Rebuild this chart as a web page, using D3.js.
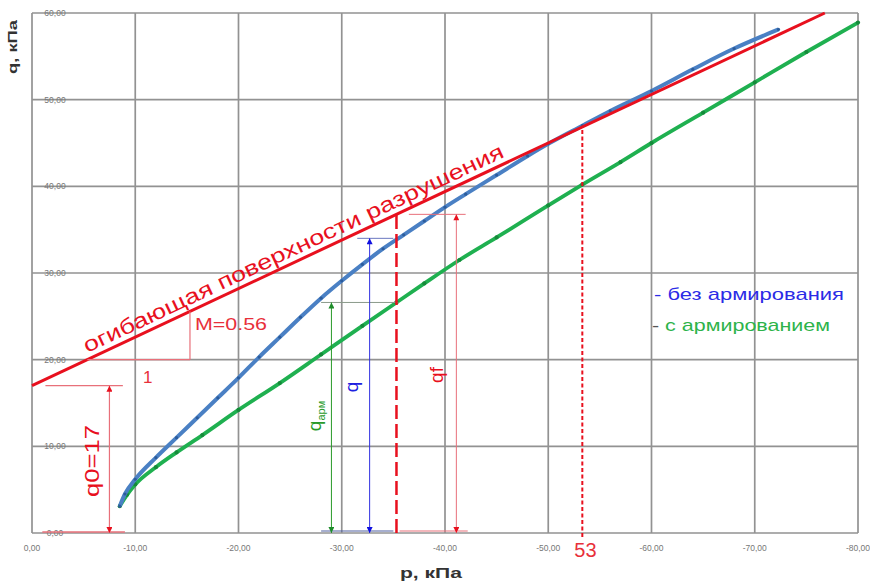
<!DOCTYPE html>
<html><head><meta charset="utf-8">
<script src="https://cdn.jsdelivr.net/npm/d3@7"></script>
<style>body{margin:0;background:#fff}svg{display:block}</style>
</head><body>
<script>
// ---- data ----
const xTicks = [0,10,20,30,40,50,60,70,80];
const xTickLabels = ["0,00","-10,00","-20,00","-30,00","-40,00","-50,00","-60,00","-70,00","-80,00"];
const yTicks = [0,10,20,30,40,50,60];
const yTickLabels = ["0,00","10,00","20,00","30,00","40,00","50,00","60,00"];
const bezP = [8.5,9,10,12,14,16,18,20,22,24,26,28,30,32,34,36,38,40,42,45,48,50,53.3,56,60,64,68,72.3];
const bezQ = [3.1,4.5,6.2,8.7,11.0,13.3,15.6,17.9,20.3,22.6,24.9,27.1,29.1,31.0,32.8,34.4,36.0,37.6,39.1,41.3,43.5,44.9,47.0,48.7,51.0,53.5,55.9,58.1];
const armP = [8.5,9.2,10,12,14,16.5,20,24,28,32,35.3,38,41.4,45,50,53.3,57,60,65,70,75,80];
const armQ = [3.1,4.4,5.6,7.6,9.3,11.3,14.2,17.3,20.6,23.9,26.6,28.8,31.5,34.1,37.8,40.2,42.8,45.0,48.5,52.0,55.5,58.9];
const q0 = 17, M = 0.56;
const pf = 35.3, pEnv = 53.3;
const arrowP = {q0: 7.5, arm: 29.0, bez: 32.7, qf: 41.1};
const qArm = 26.6, qBez = 34.0;

const W = 870, H = 585;
const FONT = "Liberation Sans, Arial, sans-serif";
const svg = d3.select("body").append("svg").attr("width", W).attr("height", H);
const x = d3.scaleLinear().domain([0,80]).range([32,858]);
const y = d3.scaleLinear().domain([0,60]).range([533,13]);

// markers
const defs = svg.append("defs");
function marker(id, color){
  defs.append("marker").attr("id", id).attr("viewBox","0 0 10 10").attr("refX",10).attr("refY",5)
    .attr("markerWidth",14).attr("markerHeight",6).attr("markerUnits","userSpaceOnUse").attr("orient","auto-start-reverse")
    .append("path").attr("d","M0,0L10,5L0,10Z").attr("fill", color);
}
marker("aR","#e8101e"); marker("aB","#1010e0"); marker("aG","#1e8c2a");

// grid
const g = svg.append("g");
g.selectAll(".vx").data(xTicks).join("line").attr("x1",d=>x(d)).attr("x2",d=>x(d)).attr("y1",y(0)).attr("y2",y(60))
  .attr("stroke","#929292").attr("stroke-width",1.7);
g.selectAll(".hy").data(yTicks).join("line").attr("x1",x(0)).attr("x2",x(80)).attr("y1",d=>y(d)).attr("y2",d=>y(d))
  .attr("stroke","#929292").attr("stroke-width",1.7);
g.selectAll(".xl").data(xTicks).join("text").attr("x",d=>x(d)).attr("y",551).attr("text-anchor","middle")
  .attr("font-family",FONT).attr("font-size",8.5).attr("fill","#777").text((d,i)=>xTickLabels[i]);
g.selectAll(".yl").data(yTicks).join("text").attr("x",x(0)+23).attr("y",d=>y(d)+3).attr("text-anchor","middle")
  .attr("font-family",FONT).attr("font-size",8.5).attr("fill","#777").text((d,i)=>yTickLabels[i]);
svg.append("text").attr("x",431).attr("y",578).attr("text-anchor","middle").attr("font-family",FONT)
  .attr("font-weight","bold").attr("font-size",15).attr("textLength",62).attr("lengthAdjust","spacingAndGlyphs").attr("fill","#333").text("p, кПа");
svg.append("text").attr("transform","translate(17,47) rotate(-90)").attr("text-anchor","middle").attr("font-family",FONT)
  .attr("font-weight","bold").attr("font-size",12).attr("textLength",54).attr("lengthAdjust","spacingAndGlyphs").attr("fill","#333").text("q, кПа");

// curves
const line = d3.line().x(d=>x(d[0])).y(d=>y(d[1])).curve(d3.curveMonotoneX);
const bez = bezP.map((p,i)=>[p,bezQ[i]]);
const arm = armP.map((p,i)=>[p,armQ[i]]);
svg.append("path").datum(arm).attr("d",line).attr("fill","none").attr("stroke","#1fb050").attr("stroke-width",3.8);
svg.selectAll(".ma").data(arm).join("circle").attr("cx",d=>x(d[0])).attr("cy",d=>y(d[1])).attr("r",2.1).attr("fill","#158a3a");
svg.append("path").datum(bez).attr("d",line).attr("fill","none").attr("stroke","#4a80c4").attr("stroke-width",4);
svg.selectAll(".mb").data(bez).join("circle").attr("cx",d=>x(d[0])).attr("cy",d=>y(d[1])).attr("r",1.6).attr("fill","#2c5c9c");

// envelope
const pTop = (60-q0)/M;
svg.append("line").attr("x1",x(0)).attr("y1",y(q0)).attr("x2",x(pTop)).attr("y2",y(60))
  .attr("stroke","#e8101e").attr("stroke-width",3);
const ang = Math.atan2(y(q0)-y(60), x(pTop)-x(0))*180/Math.PI;
const p0 = 5.6;
svg.append("text").attr("transform",`translate(${x(p0)},${y(q0+M*p0)}) rotate(${-ang}) translate(0,-6)`)
  .attr("font-family",FONT).attr("font-size",21).attr("textLength",462).attr("lengthAdjust","spacingAndGlyphs")
  .attr("fill","#e8101e").text("огибающая поверхности разрушения");

// M triangle
const pM1 = (20-q0)/M, pM2 = 15.3;
svg.append("line").attr("x1",x(pM1)).attr("x2",x(pM2)).attr("y1",y(20)).attr("y2",y(20)).attr("stroke","#e8707a").attr("stroke-width",1.2);
svg.append("line").attr("x1",x(pM2)).attr("x2",x(pM2)).attr("y1",y(20)).attr("y2",y(q0+M*pM2)).attr("stroke","#e8707a").attr("stroke-width",1.2);
svg.append("text").attr("x",195).attr("y",330).attr("font-family",FONT).attr("font-size",16).attr("textLength",72).attr("lengthAdjust","spacingAndGlyphs").attr("fill","#e8303a").text("M=0.56");
svg.append("text").attr("x",143).attr("y",383).attr("font-family",FONT).attr("font-size",17).attr("fill","#e8303a").text("1");

// q0 arrow
svg.append("line").attr("x1",x(1.3)).attr("x2",x(8.8)).attr("y1",y(q0)).attr("y2",y(q0)).attr("stroke","#e8707a").attr("stroke-width",1.2);
svg.append("line").attr("x1",x(1)).attr("x2",x(9)).attr("y1",y(0)-1).attr("y2",y(0)-1).attr("stroke","#e8707a").attr("stroke-width",1.5);
svg.append("line").attr("x1",x(arrowP.q0)).attr("x2",x(arrowP.q0)).attr("y1",y(0)).attr("y2",y(q0))
  .attr("stroke","#e8707a").attr("stroke-width",1.2).attr("marker-start","url(#aR)").attr("marker-end","url(#aR)");
svg.append("text").attr("transform",`translate(99,461) rotate(-90)`).attr("text-anchor","middle")
  .attr("font-family",FONT).attr("font-size",20).attr("textLength",72).attr("lengthAdjust","spacingAndGlyphs").attr("fill","#e8101e").text("q0=17");

// green q_arm arrow
svg.append("line").attr("x1",x(28)).attr("x2",x(35.5)).attr("y1",y(qArm)).attr("y2",y(qArm)).attr("stroke","#8a9a8a").attr("stroke-width",1);
svg.append("line").attr("x1",x(28)).attr("x2",x(35)).attr("y1",y(0)-2).attr("y2",y(0)-2).attr("stroke","#5060a0").attr("stroke-width",1.2);
svg.append("line").attr("x1",x(arrowP.arm)).attr("x2",x(arrowP.arm)).attr("y1",y(0)).attr("y2",y(qArm))
  .attr("stroke","#2a9a2a").attr("stroke-width",1).attr("marker-start","url(#aG)").attr("marker-end","url(#aG)");
const ta = svg.append("text").attr("transform",`translate(321,416) rotate(-90)`).attr("text-anchor","middle")
  .attr("font-family",FONT).attr("font-size",19).attr("fill","#2a9a2a");
ta.append("tspan").text("q");
ta.append("tspan").attr("font-size",11).attr("dy",4).text("арм");

// blue q arrow
svg.append("line").attr("x1",x(31.5)).attr("x2",x(35)).attr("y1",y(qBez)).attr("y2",y(qBez)).attr("stroke","#6a78c0").attr("stroke-width",1);
svg.append("line").attr("x1",x(arrowP.bez)).attr("x2",x(arrowP.bez)).attr("y1",y(0)).attr("y2",y(qBez))
  .attr("stroke","#3030e0").attr("stroke-width",1).attr("marker-start","url(#aB)").attr("marker-end","url(#aB)");
svg.append("text").attr("transform",`translate(358,387) rotate(-90)`).attr("text-anchor","middle")
  .attr("font-family",FONT).attr("font-size",19).attr("fill","#2020e0").text("q");

// red dashed at pf
const qf = q0 + M*pf;
svg.append("line").attr("x1",x(pf)).attr("x2",x(pf)).attr("y1",y(0)).attr("y2",y(qf))
  .attr("stroke","#e8101e").attr("stroke-width",2.5).attr("stroke-dasharray","14,5");
// qf arrow
svg.append("line").attr("x1",x(36.5)).attr("x2",x(42)).attr("y1",y(qf)).attr("y2",y(qf)).attr("stroke","#e8707a").attr("stroke-width",1);
svg.append("line").attr("x1",x(35.6)).attr("x2",x(42.2)).attr("y1",y(0)-2).attr("y2",y(0)-2).attr("stroke","#e8707a").attr("stroke-width",1.2);
svg.append("line").attr("x1",x(arrowP.qf)).attr("x2",x(arrowP.qf)).attr("y1",y(0)).attr("y2",y(qf))
  .attr("stroke","#e8707a").attr("stroke-width",1).attr("marker-start","url(#aR)").attr("marker-end","url(#aR)");
svg.append("text").attr("transform",`translate(443,375) rotate(-90)`).attr("text-anchor","middle")
  .attr("font-family",FONT).attr("font-size",19).attr("fill","#e8101e").text("qf");

// red dashed at 53
svg.append("line").attr("x1",x(pEnv)).attr("x2",x(pEnv)).attr("y1",y(0)+4).attr("y2",y(q0+M*pEnv))
  .attr("stroke","#e8101e").attr("stroke-width",2).attr("stroke-dasharray","4,2.5");
svg.append("text").attr("x",x(pEnv)-8).attr("y",557).attr("font-family",FONT).attr("font-size",20).attr("fill","#e8303a").text("53");

// legend
svg.append("text").attr("x",654).attr("y",300).attr("font-family",FONT).attr("font-size",17).attr("textLength",190).attr("lengthAdjust","spacingAndGlyphs").attr("fill","#2b2be6").text("- без армирования");
const l2 = svg.append("text").attr("x",652).attr("y",331).attr("font-family",FONT).attr("font-size",17).attr("textLength",178).attr("lengthAdjust","spacingAndGlyphs");
l2.append("tspan").attr("fill","#555").text("- ");
l2.append("tspan").attr("fill","#2db34a").text("с армированием");
</script>
</body></html>
